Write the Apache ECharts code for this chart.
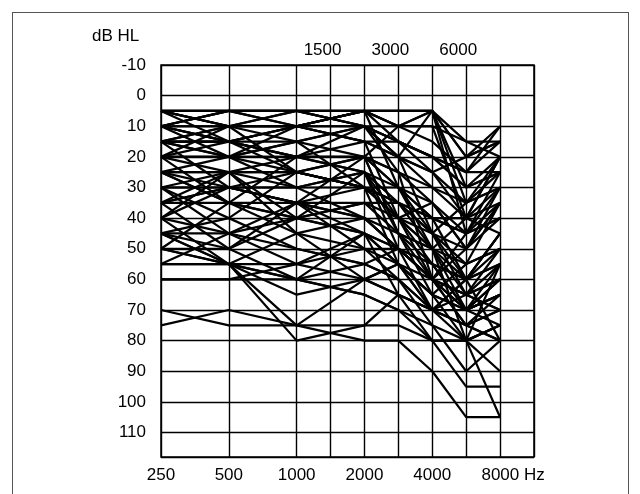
<!DOCTYPE html>
<html>
<head>
<meta charset="utf-8">
<script src="https://cdn.jsdelivr.net/npm/echarts@6/dist/echarts.min.js"></script>
<style>
html, body { margin: 0; padding: 0; background: #fff; }
#frame { position: absolute; left: 12px; top: 12px; width: 615px; height: 520px; border: 1px solid #555; border-bottom: none; }
#main { position: absolute; left: 0; top: 0; width: 640px; height: 494px; }
</style>
</head>
<body>
<div id="frame"></div>
<div id="main"></div>
<script>
// half-octave slots of the audiogram axis
const slots = ['250', '354', '500', '707', '1000', '1500', '2000', '3000', '4000', '6000', '8000', '11314'];
const noGridSlots = ['354', '707'];
const bottomLabels = ['250', '500', '1000', '2000', '4000', '8000'];
const topLabels = ['1500', '3000', '6000'];
const testFreqs = ['250', '500', '1000', '2000', '3000', '4000', '6000', '8000'];

// thresholds in dB HL at testFreqs, one row per ear
const nearNormal = [
  [5, 5, 5, 5, 10, 5, 15, 15],
  [10, 5, 5, 5, 5, 5, 20, 10],
  [5, 10, 10, 5, 10, 10, 15, 20],
  [10, 10, 5, 10, 15, 20, 30, 25],
  [15, 10, 10, 5, 10, 15, 25, 15],
  [10, 15, 15, 10, 20, 25, 35, 25],
  [5, 5, 10, 15, 20, 30, 40, 35],
  [15, 15, 10, 15, 15, 20, 30, 20],
  [20, 15, 10, 5, 5, 5, 20, 15],
  [25, 20, 10, 5, 15, 25, 40, 30],
  [15, 20, 20, 15, 20, 25, 20, 15],
  [10, 5, 10, 10, 15, 20, 25, 10],
  [10, 5, 5, 5, 5, 5, 30, 25],
  [5, 5, 5, 10, 10, 5, 45, 30],
  [5, 10, 5, 10, 20, 5, 35, 20],
  [20, 25, 25, 20, 10, 10, 40, 20]
];
const notched = [
  [10, 10, 10, 15, 40, 60, 45, 25],
  [15, 10, 15, 20, 45, 65, 55, 35],
  [5, 10, 10, 5, 30, 50, 40, 20],
  [20, 20, 25, 30, 55, 70, 60, 50],
  [10, 15, 10, 10, 20, 45, 35, 30],
  [25, 25, 30, 25, 50, 70, 70, 55],
  [30, 30, 30, 30, 35, 50, 80, 55],
  [15, 15, 20, 10, 25, 60, 50, 35],
  [35, 35, 40, 45, 65, 70, 65, 50]
];
const mild = [
  [20, 10, 25, 20, 25, 35, 50, 30],
  [10, 20, 15, 30, 30, 40, 45, 40],
  [20, 20, 15, 10, 15, 20, 25, 25],
  [20, 20, 20, 25, 35, 45, 55, 50],
  [25, 35, 20, 20, 30, 40, 60, 45],
  [15, 15, 20, 25, 40, 50, 65, 55],
  [25, 25, 20, 20, 25, 30, 35, 30],
  [10, 15, 25, 30, 40, 55, 70, 60],
  [30, 25, 25, 30, 35, 45, 50, 40],
  [25, 30, 30, 25, 30, 35, 45, 35],
  [30, 30, 35, 35, 45, 55, 60, 55],
  [35, 30, 25, 30, 40, 50, 70, 65],
  [15, 30, 35, 45, 50, 60, 65, 70],
  [15, 20, 30, 40, null, 60, 70, 65],
  [5, 15, 20, 20, 30, 45, 60, 45]
];
const moderate = [
  [20, 35, 35, 40, 50, 60, 75, 70],
  [35, 25, 40, 35, 35, 40, 40, 45],
  [30, 45, 40, 45, 55, 65, 80, 75],
  [40, 30, 35, 20, 45, 50, 55, 50],
  [35, 50, 40, 35, 40, 45, 65, 60],
  [40, 25, 45, 40, 50, 60, 70, 65],
  [45, 40, 25, 30, 35, 40, 45, 40],
  [40, 45, 55, 45, 55, 60, 65, 70],
  [45, 55, 45, 50, 50, 55, 60, 55],
  [50, 35, 40, 25, 45, 60, 75, 65],
  [45, 50, 35, 50, 60, 70, 75, 80],
  [50, 50, 60, 45, 50, 55, 70, 75],
  [55, 45, 35, 40, 45, 50, 60, 45],
  [25, 35, 45, 60, 55, 65, 70, 60],
  [30, 40, 50, 55, 60, 70, 75, 80],
  [35, 30, 35, 30, 40, 35, 50, 35]
];
const severe = [
  [55, 55, 60, 55, 50, 60, 65, 60],
  [50, 55, 65, 60, 65, 70, 75, 70],
  [60, 60, 60, 65, 70, 75, 80, 75],
  [60, 60, 55, 50, 55, 65, 70, 65],
  [45, 55, 75, 60, 55, 70, 80, 75],
  [70, 75, 75, 75, 75, 80, 95, 95],
  [75, 70, 75, 80, 80, 90, 105, 105],
  [55, 55, 80, 75, 65, 80, 80, 90],
  [40, 55, 60, 65, 70, 80, 80, 105],
  [50, 55, 55, 60, 65, 70, 60, 80],
  [45, 45, 50, 55, 60, 75, 90, 80]
];

const ears = [].concat(nearNormal, notched, mild, moderate, severe);

const seriesData = ears.map(row => ({
  type: 'line',
  symbol: 'none',
  silent: true,
  connectNulls: true,
  lineStyle: { color: '#000', width: 2.2 },
  data: testFreqs.map((f, i) => [f, row[i]]).filter(p => p[1] != null)
}));

const font = { fontFamily: 'Liberation Sans', fontSize: 17, color: '#000' };

const myChart = echarts.init(document.getElementById('main'));
const option = {
  animation: false,
  grid: { left: 161, right: 106, top: 65, bottom: 37, show: true, borderColor: '#000', borderWidth: 1.5 },
  graphic: [{
    type: 'text', left: 92, top: 28,
    style: { text: 'dB HL', font: '17px "Liberation Sans"', fill: '#000' }
  }],
  xAxis: [{
    type: 'category',
    data: slots,
    boundaryGap: false,
    axisLine: { show: false },
    axisTick: { show: false },
    splitLine: {
      show: true,
      interval: (i, v) => noGridSlots.indexOf(v) < 0,
      lineStyle: { color: '#000', width: 1.4 }
    },
    axisLabel: {
      ...font,
      margin: 10,
      interval: (i, v) => bottomLabels.indexOf(v) >= 0,
      formatter: v => v === '8000' ? '{hz|8000 Hz}' : v,
      rich: { hz: { ...font, padding: [0, 0, 0, 26] } }
    }
  }, {
    type: 'category',
    data: slots,
    boundaryGap: false,
    position: 'top',
    axisLine: { show: false },
    axisTick: { show: false },
    splitLine: { show: false },
    axisLabel: {
      ...font,
      margin: 6,
      padding: [0, 16, 0, 0],
      interval: (i, v) => topLabels.indexOf(v) >= 0
    }
  }],
  yAxis: {
    type: 'value',
    inverse: true,
    min: -10,
    max: 118,
    interval: 10,
    axisLine: { show: false },
    axisTick: { show: false },
    splitLine: { lineStyle: { color: '#000', width: 1.4 } },
    axisLabel: { ...font, margin: 15, padding: [7, 0, 0, 0], showMaxLabel: false }
  },
  series: seriesData
};
myChart.setOption(option);
</script>
</body>
</html>
